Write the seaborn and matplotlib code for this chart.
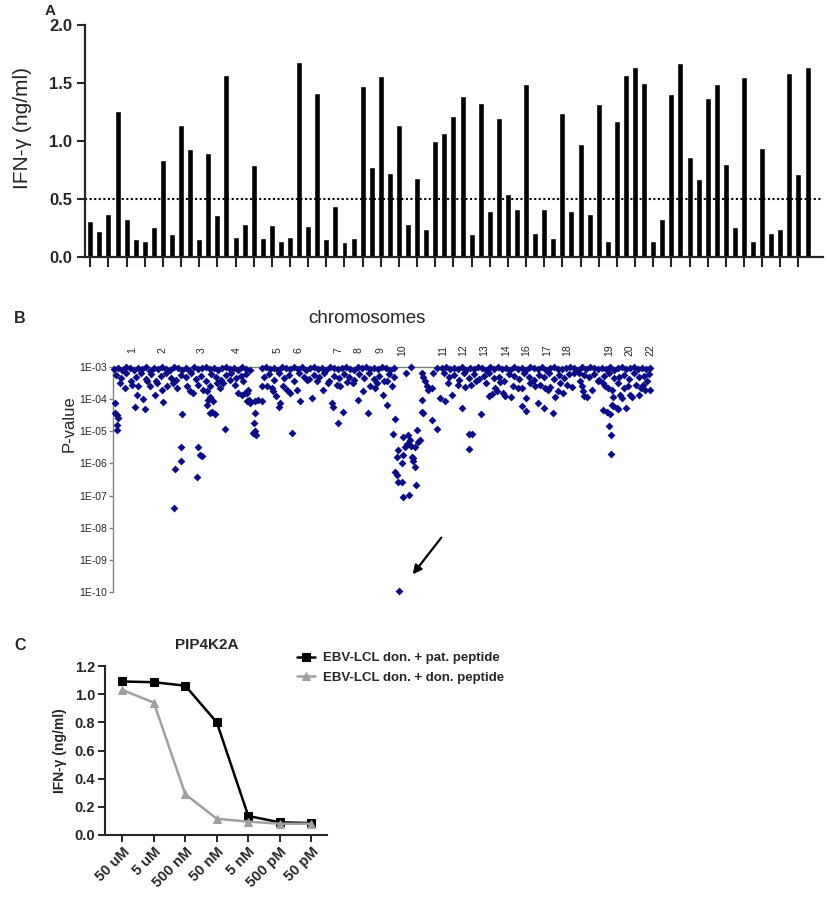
import numpy as np
import pandas as pd
import matplotlib
matplotlib.use("Agg")
import matplotlib.pyplot as plt
import seaborn as sns
from matplotlib.ticker import FixedLocator, NullLocator

sns.set_style("ticks")
plt.rcParams["font.family"] = ["Liberation Sans", "DejaVu Sans"]

# ---------------- panel A: IFN-gamma response per peptide ----------------
ifn_values = [0.31, 0.22, 0.37, 1.26, 0.33, 0.155, 0.14, 0.255, 0.835, 0.20,
              1.135, 0.93, 0.155, 0.895, 0.365, 1.57, 0.17, 0.285, 0.79, 0.16,
              0.28, 0.14, 0.175, 1.68, 0.27, 1.415, 0.155, 0.44, 0.13, 0.16,
              1.475, 0.775, 1.56, 0.725, 1.14, 0.285, 0.68, 0.24, 1.00, 1.07,
              1.215, 1.39, 0.20, 1.325, 0.395, 1.20, 0.545, 0.415, 1.495, 0.21,
              0.415, 0.165, 1.245, 0.395, 0.97, 0.375, 1.32, 0.14, 1.175, 1.57,
              1.635, 1.50, 0.14, 0.33, 1.405, 1.67, 0.865, 0.675, 1.375, 1.495,
              0.80, 0.255, 1.555, 0.14, 0.94, 0.21, 0.245, 1.585, 0.715, 1.64]
threshold = 0.5
a_yticks = [0.0, 0.5, 1.0, 1.5, 2.0]

# ---------------- panel B: association p-values (-log10 p) ----------------
chrom_names = ["1", "2", "3", "4", "5", "6", "7", "8", "9", "10",
               "11", "12", "13", "14", "16", "17", "18", "19", "20", "22"]
chrom_pos = [132, 162, 202, 237, 278, 299, 338, 358, 380, 402,
             443, 463, 484, 506, 526, 547, 567, 609, 629, 650]

# dense band just under 1E-03
top_x = [114, 118, 122, 126, 130, 134, 138, 142, 146, 150, 154, 158, 162, 166, 170, 174, 178, 182,
         186, 190, 194, 198, 202, 206, 210, 214, 218, 222, 226, 230, 234, 238, 242, 246, 250,
         262, 266, 270, 274, 278, 282, 286, 290, 294, 298, 302, 306, 310, 314, 318, 322, 326,
         330, 334, 338, 342, 346, 350, 354, 358, 362, 366, 370, 374, 378, 382, 386, 390, 394,
         442, 446, 450, 454, 458, 462, 466, 470, 474, 478, 482, 486, 490, 494, 498, 502, 506,
         510, 514, 518, 522, 526, 530, 534, 538, 542, 546, 550, 554, 558, 562, 566, 570, 574,
         578, 582, 586, 590, 594, 598, 602, 606, 610, 614, 618, 622, 626, 630, 634, 638, 642,
         646, 650]
top_v = [3.05, 3.02, 3.08, 3.0, 3.04, 3.1, 3.02, 3.06, 3.0, 3.12,
         3.03, 3.07, 3.01, 3.05, 3.09, 3.0, 3.04, 3.08, 3.02, 3.11,
         3.0, 3.06, 3.03, 3.0, 3.07, 3.02, 3.1, 3.04, 3.0, 3.06,
         3.02, 3.08, 3.0, 3.05, 3.1,
         3.03, 3.0, 3.06, 3.02, 3.09, 3.0, 3.04, 3.07, 3.01, 3.05,
         3.0, 3.08, 3.03, 3.0, 3.06, 3.02, 3.1, 3.0, 3.04, 3.07,
         3.02, 3.0, 3.05, 3.09, 3.01, 3.04, 3.0, 3.07, 3.03, 3.06,
         3.0, 3.04, 3.08, 3.02,
         3.04, 3.0, 3.07, 3.02, 3.05, 3.0, 3.09, 3.03, 3.06, 3.0,
         3.04, 3.08, 3.01, 3.05, 3.0, 3.07, 3.03, 3.1, 3.0, 3.05,
         3.02, 3.08, 3.0, 3.04, 3.06, 3.01, 3.09, 3.03, 3.0, 3.05,
         3.07, 3.02, 3.0, 3.04, 3.08, 3.01, 3.06, 3.0, 3.03, 3.07,
         3.02, 3.05, 3.0, 3.09, 3.04, 3.01, 3.06, 3.03, 3.0, 3.07,
         3.02, 3.05, 3.04]
mid_x = [116, 121, 126, 131, 136, 141, 146, 151, 156, 161, 166, 171, 176, 181, 186, 191, 196,
         201, 206, 211, 216, 221, 226, 231, 236, 241, 246,
         264, 269, 274, 279, 284, 289, 294, 299, 304, 309, 314, 319, 324, 329, 334, 339, 344,
         349, 354, 359, 364, 369, 374, 379, 384, 389, 394,
         444, 449, 454, 459, 464, 469, 474, 479, 484, 489, 494, 499, 504, 509, 514, 519, 524,
         529, 534, 539, 544, 549, 554, 559, 564, 569, 574, 579, 584, 589, 594, 599, 604, 609,
         614, 619, 624, 629, 634, 639, 644, 649]
mid_v = [3.25, 3.35, 3.2, 3.42, 3.3, 3.18, 3.38, 3.22, 3.45, 3.28,
         3.2, 3.33, 3.4, 3.24, 3.3, 3.19, 3.36, 3.27, 3.44, 3.21,
         3.32, 3.4, 3.26, 3.18, 3.35, 3.29, 3.22,
         3.3, 3.22, 3.4, 3.18, 3.35, 3.25, 3.45, 3.2, 3.32, 3.38,
         3.24, 3.3, 3.19, 3.42, 3.27, 3.35, 3.21, 3.3, 3.4, 3.23,
         3.33, 3.2, 3.37, 3.28, 3.43, 3.22, 3.3,
         3.2, 3.3, 3.25, 3.4, 3.18, 3.33, 3.22, 3.38, 3.27, 3.2,
         3.35, 3.3, 3.42, 3.21, 3.28, 3.36, 3.19, 3.31, 3.4, 3.24,
         3.3, 3.2, 3.37, 3.26, 3.33, 3.22, 3.18, 3.2, 3.25, 3.3,
         3.22, 3.4, 3.28, 3.2, 3.35, 3.3, 3.24, 3.38, 3.2, 3.32,
         3.27, 3.22]
low_x = [120, 125, 132, 138, 147, 150, 157, 162, 167, 173, 177, 187, 190, 193, 198, 203, 207,
         210, 217, 220, 223, 230, 235, 238,
         243, 248, 262, 267, 272, 273, 283, 287, 290, 297, 307, 317, 323, 328, 337, 340, 347,
         353, 363, 370, 375, 377, 387, 392,
         448, 458, 476, 486, 500, 530, 535, 560, 567, 572, 598, 618, 628, 636, 641]
low_v = [3.5, 3.66, 3.55, 3.6, 3.45, 3.6, 3.5, 3.7, 3.6, 3.5, 3.66, 3.6, 3.76, 3.81, 3.55, 3.71,
         3.76, 3.6, 3.5, 3.66, 3.5, 3.4, 3.55, 3.81,
         3.45, 3.71, 3.6, 3.6, 3.66, 3.76, 3.6, 3.71, 3.81, 3.71, 3.4, 3.45, 3.71, 3.5, 3.55,
         3.6, 3.48, 3.5, 3.76, 3.6, 3.66, 3.5, 3.45, 3.6,
         3.5, 3.55, 3.45, 3.5, 3.48, 3.5, 3.6, 3.5, 3.55, 3.62, 3.45, 3.5, 3.6, 3.55, 3.65]

# scattered hits below the band
left_x = [115, 115, 117, 118, 117, 117, 135, 145, 137, 143,
          163, 155, 182, 181, 181, 175, 174, 198, 200, 202,
          197, 207, 208, 210, 213, 212, 215, 210, 225, 242,
          247, 249]
left_v = [4.12, 4.42, 4.49, 4.59, 4.80, 4.96, 4.23, 4.30, 3.86, 4.00,
          4.09, 3.86, 4.46, 5.48, 5.93, 6.18, 7.38, 5.48, 5.74, 5.77,
          6.42, 4.18, 4.02, 3.92, 4.07, 4.39, 4.46, 4.42, 4.94, 3.86,
          3.81, 4.02]
middle_x = [245, 247, 250, 255, 258, 262, 255, 254, 253, 255,
            256, 292, 280, 279, 276, 300, 312, 332, 333, 343,
            338, 358, 368, 387, 383]
middle_v = [3.81, 4.07, 4.12, 4.07, 4.02, 4.05, 4.44, 4.73, 5.06, 4.98,
            5.11, 5.04, 4.12, 4.23, 3.90, 4.07, 3.97, 4.12, 4.23, 4.39,
            4.75, 4.02, 4.42, 4.18, 3.86]
chr10_x = [395, 393, 403, 398, 405, 407, 408, 410, 411, 417,
           418, 420, 415, 397, 403, 412, 413, 413, 402, 415,
           395, 397, 398, 402, 416, 403, 409, 399,
           406, 411, 422, 423, 425, 427, 428, 432, 433, 437,
           422, 423, 422, 432, 437]
chr10_v = [4.63, 5.08, 5.17, 5.58, 5.48, 5.38, 5.11, 5.27, 5.46, 4.96,
           5.32, 5.27, 5.48, 5.81, 5.74, 5.79, 5.84, 5.92, 5.98, 6.10,
           6.26, 6.36, 6.57, 6.57, 6.68, 7.04, 6.99, 9.96,
           3.19, 3.00, 3.19, 3.31, 3.45, 3.60, 3.71, 3.66, 3.19, 3.03,
           4.39, 4.44, 4.02, 4.65, 4.94]
right_x = [440, 445, 452, 462, 465, 471, 469, 472, 469, 481,
           489, 492, 495, 497, 503, 505, 511, 513, 518, 522,
           526, 522, 526, 538, 544, 540, 545, 548, 550, 553,
           555, 558, 563, 580, 582, 583, 584, 587, 592, 603,
           605, 608, 612, 603, 607, 610, 613, 613, 617, 609,
           611, 611, 620, 622, 626, 630, 632, 624, 639, 643,
           645, 647, 650, 612, 618]
right_v = [3.95, 4.05, 3.86, 4.26, 3.63, 3.57, 5.08, 5.08, 5.55, 4.47,
           3.89, 3.84, 3.66, 3.76, 3.81, 3.90, 3.92, 3.60, 3.64, 3.66,
           3.97, 4.20, 4.36, 4.13, 4.26, 3.55, 3.66, 3.71, 3.63, 4.42,
           3.92, 3.76, 3.81, 3.45, 3.60, 3.76, 3.89, 3.92, 3.71, 3.50,
           3.60, 3.66, 3.71, 4.33, 4.40, 4.47, 3.92, 4.20, 4.28, 4.82,
           5.11, 5.70, 3.87, 3.95, 4.28, 3.87, 3.92, 3.66, 3.87, 3.55,
           3.71, 3.45, 3.71, 4.18, 4.31]

p_exponents = [3, 4, 5, 6, 7, 8, 9, 10]
p_tick_labels = ["1E-03", "1E-04", "1E-05", "1E-06", "1E-07", "1E-08", "1E-09", "1E-10"]
arrow_head = (411, 9.52)
arrow_tail = (443, 8.24)

# ---------------- panel C: PIP4K2A peptide titration ----------------
conc_labels = ["50 uM", "5 uM", "500 nM", "50 nM", "5 nM", "500 pM", "50 pM"]
pat_values = [1.09, 1.085, 1.06, 0.80, 0.135, 0.09, 0.085]
don_values = [1.03, 0.94, 0.29, 0.115, 0.095, 0.08, 0.08]
c_yticks = [0.0, 0.2, 0.4, 0.6, 0.8, 1.0, 1.2]

W, H = 829, 901
fig = plt.figure(figsize=(W / 100, H / 100), dpi=100)


def box(left, top, right, bottom):
    return [left / W, 1 - bottom / H, (right - left) / W, (bottom - top) / H]


# ---- A
ax_a = fig.add_axes(box(85, 25, 823, 257))
sample_ids = np.arange(1, len(ifn_values) + 1)
sns.barplot(x=sample_ids, y=ifn_values, color="black", saturation=1, width=0.66,
            errorbar=None, ax=ax_a)
ax_a.axhline(threshold, color="black", lw=1.5, ls=(0, (1, 1.2)))
ax_a.set_xlim(-0.58, len(ifn_values) + 0.7)
ax_a.set_ylim(0, 2.0)
ax_a.set_xticks(np.arange(0, len(ifn_values), 2))
ax_a.set_xticklabels([])
ax_a.set_yticks(a_yticks)
ax_a.set_yticklabels([f"{t:.1f}" for t in a_yticks], fontsize=12, fontweight="bold")
ax_a.tick_params(axis="x", length=7.5, width=1.5)
ax_a.tick_params(axis="y", length=6, width=1.5, pad=3)
ax_a.set_xlabel("")
ax_a.set_ylabel("IFN-γ (ng/ml)", fontsize=15)
ax_a.yaxis.set_label_coords(-0.072, 0.555)
sns.despine(ax=ax_a)
for s in ["left", "bottom"]:
    ax_a.spines[s].set_linewidth(1.6)
fig.text(50 / W, 1 - 11 / H, "A", fontsize=11, fontweight="bold", ha="center", va="center")

# ---- B
ax_b = fig.add_axes(box(113, 367, 650, 592))
df_b = pd.concat([
    pd.DataFrame({"pos": top_x, "v": top_v}),
    pd.DataFrame({"pos": mid_x, "v": mid_v}),
    pd.DataFrame({"pos": low_x, "v": low_v}),
    pd.DataFrame({"pos": left_x, "v": left_v}),
    pd.DataFrame({"pos": middle_x, "v": middle_v}),
    pd.DataFrame({"pos": chr10_x, "v": chr10_v}),
    pd.DataFrame({"pos": right_x, "v": right_v}),
], ignore_index=True)
df_b["p"] = 10.0 ** (-df_b["v"])
sns.scatterplot(data=df_b, x="pos", y="p", marker="D", s=16, color="#0c0c84",
                linewidth=0, clip_on=False, legend=False, ax=ax_b, zorder=3)
ax_b.set_yscale("log")
ax_b.set_ylim(10.0 ** -10, 10.0 ** -3)
ax_b.set_xlim(113, 650)
ax_b.set_xticks([])
ax_b.yaxis.set_major_locator(FixedLocator([10.0 ** -e for e in p_exponents]))
ax_b.yaxis.set_minor_locator(NullLocator())
ax_b.set_yticklabels(p_tick_labels, fontsize=7.5)
ax_b.tick_params(axis="y", length=3, width=1, color="#808080", pad=1.5)
ax_b.set_xlabel("")
ax_b.set_ylabel("P-value", fontsize=12)
ax_b.yaxis.set_label_coords(-0.068, 0.75)
for s in ["right", "bottom"]:
    ax_b.spines[s].set_visible(False)
for s in ["left", "top"]:
    ax_b.spines[s].set_color("#808080")
    ax_b.spines[s].set_linewidth(1.0)
for name, pos in zip(chrom_names, chrom_pos):
    ax_b.text(pos, 1.075, name, transform=ax_b.get_xaxis_transform(), rotation=90,
              ha="center", va="center", fontsize=7.5)
ax_b.annotate("", xy=(arrow_head[0], 10.0 ** -arrow_head[1]),
              xytext=(arrow_tail[0], 10.0 ** -arrow_tail[1]),
              arrowprops=dict(arrowstyle="-|>", color="black", lw=1.6, mutation_scale=13))
fig.text(367 / W, 1 - 318 / H, "chromosomes", fontsize=13.5, ha="center", va="center")
fig.text(20 / W, 1 - 318 / H, "B", fontsize=11.5, fontweight="bold", ha="center", va="center")

# ---- C
ax_c = fig.add_axes(box(105, 666, 327, 835))
x_pos = np.arange(len(conc_labels))
sns.lineplot(x=x_pos, y=pat_values, color="black", marker="s", markersize=6,
             markeredgecolor="black", lw=1.8, label="EBV-LCL don. + pat. peptide", ax=ax_c)
sns.lineplot(x=x_pos, y=don_values, color="#a0a0a0", marker="^", markersize=6,
             markeredgecolor="#a0a0a0", lw=1.8, label="EBV-LCL don. + don. peptide", ax=ax_c)
ax_c.set_xlim(-0.55, len(conc_labels) - 0.5)
ax_c.set_ylim(0, 1.2)
ax_c.set_xticks(x_pos)
ax_c.set_xticklabels(conc_labels, rotation=45, ha="right", rotation_mode="anchor",
                     fontsize=10.5, fontweight="bold")
ax_c.set_yticks(c_yticks)
ax_c.set_yticklabels([f"{t:.1f}" for t in c_yticks], fontsize=10.5, fontweight="bold")
ax_c.tick_params(length=5, width=1.4, pad=2)
ax_c.set_ylabel("IFN-γ (ng/ml)", fontsize=10, fontweight="bold")
ax_c.yaxis.set_label_coords(-0.17, 0.5)
sns.despine(ax=ax_c)
for s in ["left", "bottom"]:
    ax_c.spines[s].set_linewidth(1.5)
ax_c.legend(loc="upper left", bbox_to_anchor=(297 / W, 1 - 652 / H), bbox_transform=fig.transFigure,
            frameon=False, prop={"weight": "bold", "size": 9.5}, handlelength=1.4,
            handletextpad=0.6, labelspacing=0.55, borderaxespad=0, borderpad=0,
            markerscale=0.85)
fig.text(207 / W, 1 - 645 / H, "PIP4K2A", fontsize=11, fontweight="bold", ha="center", va="center")
fig.text(20 / W, 1 - 645 / H, "C", fontsize=11.5, fontweight="bold", ha="center", va="center")

fig.savefig("out.png", dpi=100)
